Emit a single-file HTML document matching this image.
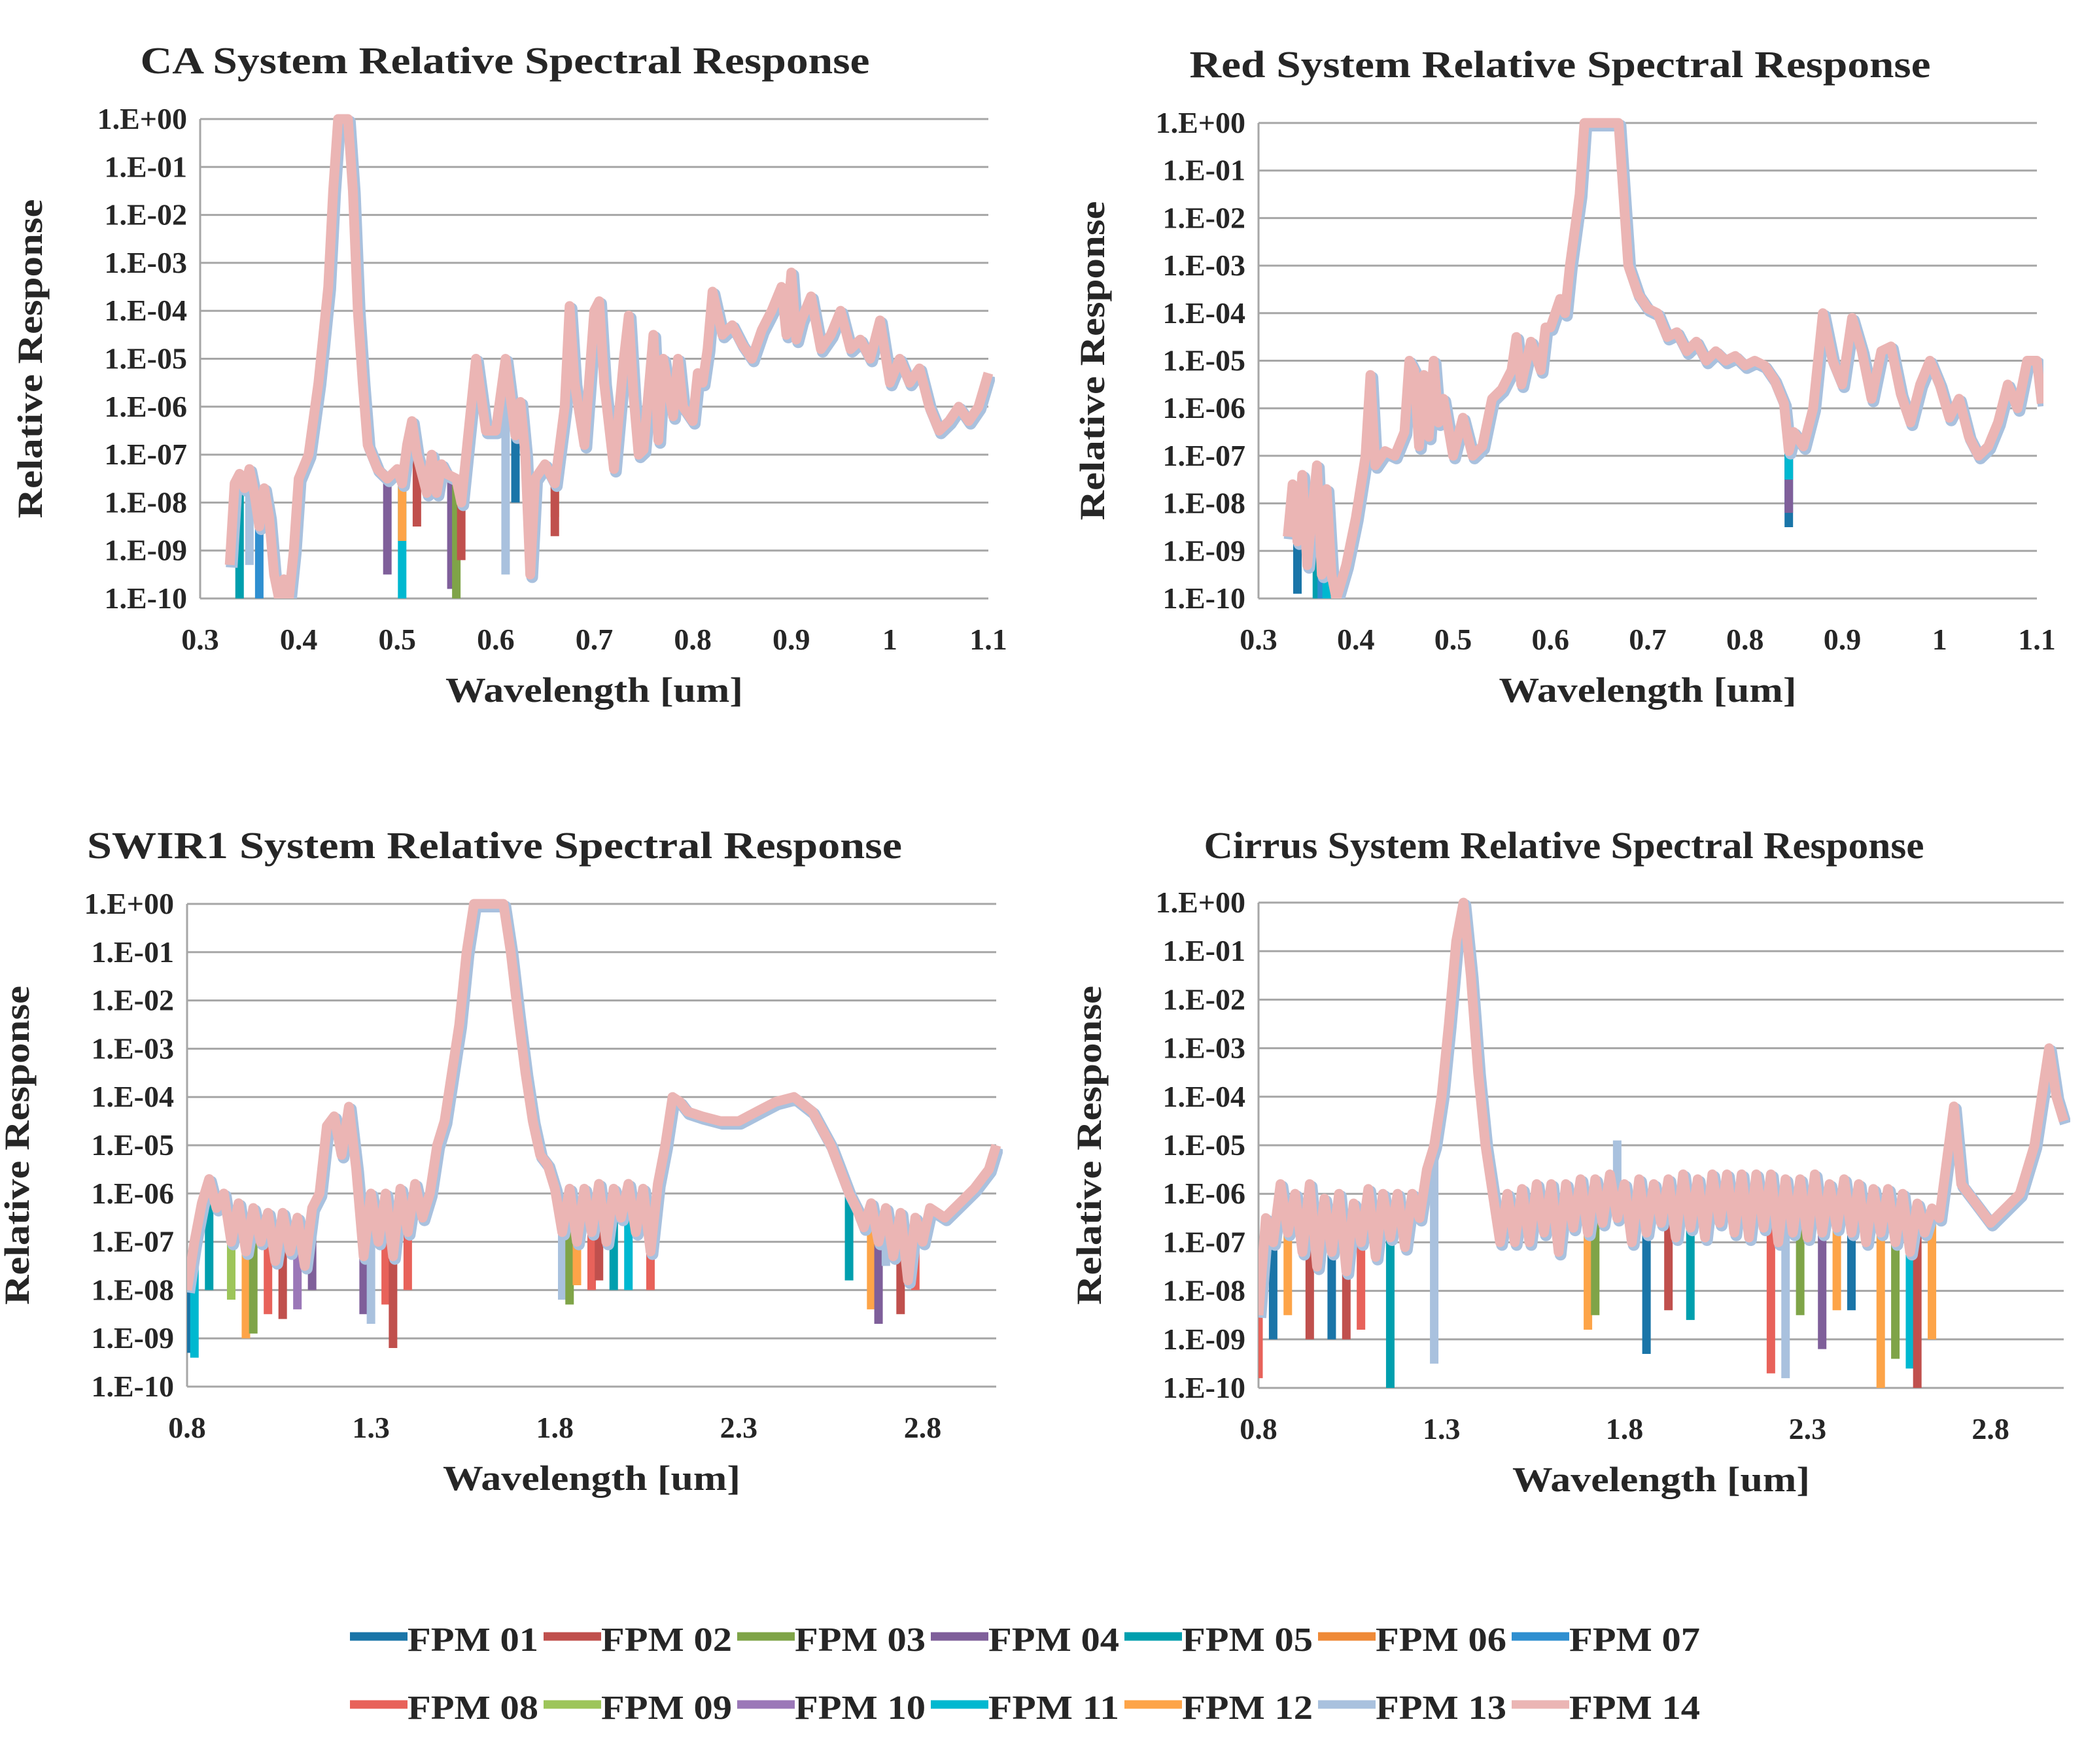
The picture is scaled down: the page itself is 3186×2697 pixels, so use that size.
<!DOCTYPE html>
<html><head><meta charset="utf-8"><style>
html,body{margin:0;padding:0;background:#fff;}
svg{display:block;}
text{font-family:"Liberation Serif",serif;font-weight:bold;fill:#262626;}
</style></head><body>
<svg id="root" width="3186" height="2697" viewBox="0 0 3186 2697" xmlns="http://www.w3.org/2000/svg"></svg>
<script>
const NS="http://www.w3.org/2000/svg";
const seriesNames=["FPM 01","FPM 02","FPM 03","FPM 04","FPM 05","FPM 06","FPM 07","FPM 08","FPM 09","FPM 10","FPM 11","FPM 12","FPM 13","FPM 14"];
const seriesColors=["#1a75a8","#c0504d","#7fa448","#7f5f9a","#009fae","#ef8a38","#2f8fd0","#e8625a","#9dc55a","#9b78b8","#00b8d0","#fda448","#a9c1de","#ebb5b4"];
const yTickLabels=["1.E+00","1.E-01","1.E-02","1.E-03","1.E-04","1.E-05","1.E-06","1.E-07","1.E-08","1.E-09","1.E-10"];
const caTicks=[0.3,0.4,0.5,0.6,0.7,0.8,0.9,1,1.1];
const caWl=[0.33,0.335,0.34,0.345,0.35,0.355,0.36,0.365,0.37,0.375,0.38,0.385,0.39,0.395,0.40,0.41,0.42,0.43,0.435,0.44,0.45,0.455,0.46,0.465,0.47,0.48,0.49,0.50,0.505,0.51,0.515,0.52,0.53,0.535,0.54,0.545,0.55,0.56,0.565,0.57,0.58,0.59,0.60,0.61,0.62,0.625,0.63,0.635,0.64,0.65,0.66,0.67,0.675,0.68,0.69,0.70,0.705,0.71,0.72,0.73,0.735,0.74,0.745,0.75,0.76,0.765,0.77,0.78,0.785,0.79,0.80,0.805,0.81,0.815,0.82,0.83,0.84,0.85,0.86,0.87,0.88,0.89,0.895,0.90,0.905,0.91,0.92,0.93,0.94,0.95,0.96,0.97,0.98,0.99,1.00,1.01,1.02,1.03,1.04,1.05,1.06,1.07,1.08,1.09,1.10];
const caLog=[-9.3,-7.6,-7.4,-7.7,-7.3,-7.8,-8.5,-7.7,-8.3,-9.5,-10,-9.6,-10,-9.0,-7.5,-7.0,-5.5,-3.5,-1.5,0,0,-1.5,-4,-5.5,-6.8,-7.3,-7.5,-7.3,-7.6,-6.8,-6.3,-7.0,-7.8,-7.0,-7.8,-7.2,-7.4,-7.5,-8.0,-7.0,-5.0,-6.5,-6.5,-5.0,-6.6,-5.9,-7.0,-9.5,-7.5,-7.2,-7.6,-6.0,-3.9,-5.5,-6.8,-4.0,-3.8,-5.5,-7.3,-5.0,-4.1,-5.8,-7.0,-6.9,-4.5,-6.7,-5.0,-6.2,-5.0,-6.0,-6.3,-5.3,-5.5,-4.8,-3.6,-4.5,-4.3,-4.7,-5.0,-4.4,-4.0,-3.5,-4.5,-3.2,-4.6,-4.2,-3.7,-4.8,-4.5,-4.0,-4.8,-4.6,-5.0,-4.2,-5.5,-5.0,-5.5,-5.2,-6.0,-6.5,-6.3,-6.0,-6.3,-6.0,-5.3];
const caDipSeries=[4,6,12,3,10,11,1,3,2,1,11,1,12,0];
const caDipWl=[0.34,0.36,0.35,0.49,0.505,0.505,0.52,0.555,0.56,0.565,0.66,0.66,0.61,0.62];
const caDipLog=[-10,-10,-9.3,-9.5,-10,-8.8,-8.5,-9.8,-10,-9.2,-8.3,-8.7,-9.5,-8.0];
const redTicks=[0.3,0.4,0.5,0.6,0.7,0.8,0.9,1,1.1];
const redWl=[0.33,0.335,0.34,0.345,0.35,0.355,0.36,0.365,0.37,0.375,0.38,0.39,0.40,0.41,0.415,0.42,0.43,0.44,0.45,0.455,0.46,0.465,0.47,0.475,0.48,0.485,0.49,0.50,0.51,0.52,0.53,0.54,0.55,0.56,0.565,0.57,0.58,0.59,0.595,0.60,0.61,0.615,0.62,0.63,0.635,0.67,0.675,0.68,0.69,0.70,0.71,0.72,0.73,0.74,0.75,0.76,0.77,0.78,0.79,0.80,0.81,0.82,0.83,0.84,0.845,0.85,0.86,0.87,0.88,0.89,0.90,0.91,0.92,0.93,0.94,0.95,0.96,0.97,0.98,0.99,1.00,1.01,1.02,1.03,1.04,1.05,1.06,1.07,1.08,1.09,1.10,1.105];
const redLog=[-8.7,-7.6,-8.8,-7.4,-9.3,-8.2,-7.2,-9.5,-7.7,-9.5,-10,-9.3,-8.3,-7.0,-5.3,-7.2,-6.9,-7.0,-6.5,-5.0,-5.2,-6.8,-5.3,-6.6,-5.0,-6.3,-5.8,-7.0,-6.2,-7.0,-6.8,-5.8,-5.6,-5.2,-4.5,-5.5,-4.6,-5.2,-4.3,-4.3,-3.7,-4.0,-3.0,-1.5,0,0,-1.5,-3.0,-3.6,-3.9,-4.0,-4.5,-4.4,-4.8,-4.6,-5.0,-4.8,-5.0,-4.9,-5.1,-5.0,-5.1,-5.4,-5.9,-6.9,-6.5,-6.8,-6.0,-4.0,-5.0,-5.5,-4.1,-4.8,-5.8,-4.8,-4.7,-5.7,-6.3,-5.5,-5.0,-5.5,-6.2,-5.8,-6.6,-7.0,-6.8,-6.3,-5.5,-6.0,-5.0,-5.0,-5.9];
const redDipSeries=[0,4,6,10,0,3,10];
const redDipWl=[0.34,0.36,0.365,0.37,0.845,0.845,0.845];
const redDipLog=[-9.9,-10,-10,-10,-8.5,-8.2,-7.5];
const swTicks=[0.8,1.3,1.8,2.3,2.8];
const swWl=[0.80,0.82,0.84,0.86,0.88,0.90,0.92,0.94,0.96,0.98,1.00,1.02,1.04,1.06,1.08,1.10,1.12,1.14,1.16,1.18,1.20,1.22,1.24,1.26,1.28,1.30,1.32,1.34,1.36,1.38,1.40,1.42,1.44,1.46,1.48,1.50,1.52,1.54,1.56,1.58,1.66,1.68,1.70,1.72,1.74,1.76,1.78,1.80,1.82,1.84,1.86,1.88,1.90,1.92,1.94,1.96,1.98,2.00,2.02,2.04,2.06,2.08,2.10,2.12,2.14,2.16,2.20,2.25,2.30,2.35,2.40,2.45,2.50,2.55,2.60,2.62,2.64,2.66,2.68,2.70,2.72,2.74,2.76,2.78,2.80,2.82,2.86,2.90,2.94,2.98,3.00];
const swLog=[-8.0,-7.0,-6.2,-5.7,-6.3,-6.0,-7.0,-6.2,-7.2,-6.3,-7.0,-6.4,-7.4,-6.4,-7.2,-6.5,-7.5,-6.3,-6.0,-4.6,-4.4,-5.2,-4.2,-5.5,-7.3,-6.0,-7.0,-6.0,-7.3,-5.9,-6.8,-5.8,-6.5,-6.0,-5.0,-4.5,-3.5,-2.5,-1.0,0,0,-1.0,-2.3,-3.5,-4.5,-5.2,-5.4,-5.9,-6.8,-5.9,-7.0,-5.9,-6.8,-5.8,-7.0,-5.9,-6.5,-5.8,-6.8,-5.9,-7.2,-5.8,-5.0,-4.0,-4.1,-4.3,-4.4,-4.5,-4.5,-4.3,-4.1,-4.0,-4.3,-5.0,-6.0,-6.3,-6.7,-6.2,-7.0,-6.3,-7.3,-6.4,-7.8,-6.5,-7.0,-6.3,-6.5,-6.2,-5.9,-5.5,-5.0];
const swDipSeries=[0,10,4,8,11,2,7,1,9,3,3,12,7,1,7,12,2,11,7,1,4,10,7,4,11,3,12,1,7];
const swDipWl=[0.80,0.82,0.86,0.92,0.96,0.98,1.02,1.06,1.10,1.14,1.28,1.30,1.34,1.36,1.40,1.82,1.84,1.86,1.90,1.92,1.96,2.00,2.06,2.60,2.66,2.68,2.70,2.74,2.78];
const swDipLog=[-9.3,-9.4,-8.0,-8.2,-9.0,-8.9,-8.5,-8.6,-8.4,-8.0,-8.5,-8.7,-8.3,-9.2,-8.0,-8.2,-8.3,-7.9,-8.0,-7.8,-8.0,-8.0,-8.0,-7.8,-8.4,-8.7,-7.5,-8.5,-8.0];
const ciTicks=[0.8,1.3,1.8,2.3,2.8];
const ciWl=[0.80,0.82,0.84,0.86,0.88,0.90,0.92,0.94,0.96,0.98,1.00,1.02,1.04,1.06,1.08,1.10,1.12,1.14,1.16,1.18,1.20,1.22,1.24,1.26,1.28,1.30,1.32,1.34,1.36,1.38,1.40,1.42,1.44,1.46,1.48,1.50,1.52,1.54,1.56,1.58,1.60,1.62,1.64,1.66,1.68,1.70,1.72,1.74,1.76,1.78,1.80,1.82,1.84,1.86,1.88,1.90,1.92,1.94,1.96,1.98,2.00,2.02,2.04,2.06,2.08,2.10,2.12,2.14,2.16,2.18,2.20,2.22,2.24,2.26,2.28,2.30,2.32,2.34,2.36,2.38,2.40,2.42,2.44,2.46,2.48,2.50,2.52,2.54,2.56,2.58,2.60,2.62,2.64,2.66,2.70,2.72,2.76,2.80,2.84,2.88,2.92,2.96,2.98,3.00];
const ciLog=[-8.5,-6.5,-7.0,-5.8,-6.8,-6.0,-7.2,-5.8,-7.5,-6.1,-7.2,-6.0,-7.6,-6.2,-7.0,-5.9,-7.3,-6.0,-6.9,-6.0,-7.1,-6.0,-6.5,-5.5,-5.0,-4.0,-2.5,-0.8,0,-1.5,-3.5,-5.0,-6.0,-7.0,-6.0,-7.0,-5.9,-7.0,-5.8,-6.8,-5.8,-7.2,-5.8,-6.7,-5.7,-6.8,-5.7,-6.6,-5.6,-6.5,-5.8,-7.0,-5.7,-6.8,-5.8,-6.6,-5.7,-6.9,-5.6,-6.7,-5.7,-6.9,-5.6,-6.6,-5.6,-6.8,-5.6,-6.9,-5.6,-6.7,-5.6,-7.0,-5.7,-6.8,-5.7,-6.9,-5.6,-6.8,-5.8,-6.7,-5.7,-6.8,-5.8,-7.0,-5.9,-6.8,-5.9,-7.0,-6.0,-7.2,-6.2,-6.8,-6.3,-6.5,-4.2,-5.8,-6.2,-6.6,-6.3,-6.0,-5.0,-3.0,-4.0,-4.5];
const ciDipSeries=[7,0,11,1,4,12,1,7,0,11,2,0,1,4,7,12,2,3,11,0,11,10,1,2,11,12];
const ciDipWl=[0.80,0.84,0.88,0.94,1.16,1.28,1.04,1.08,1.00,1.70,1.72,1.86,1.92,1.98,2.20,2.24,2.28,2.34,2.38,2.42,2.50,2.58,2.60,2.54,2.64,1.78];
const ciDipLog=[-9.8,-9.0,-8.5,-9.0,-10,-9.5,-9.0,-8.8,-9.0,-8.8,-8.5,-9.3,-8.4,-8.6,-9.7,-9.8,-8.5,-9.2,-8.4,-8.4,-10,-9.6,-10,-9.4,-9.0,-4.9];

const root=document.getElementById('root');
function el(tag,attrs,parent){const e=document.createElementNS(NS,tag);for(const k in attrs)e.setAttribute(k,attrs[k]);(parent||root).appendChild(e);return e;}
function interp(wl,lg,x){for(let i=0;i<wl.length-1;i++){if(x>=wl[i]&&x<=wl[i+1]){const t=(x-wl[i])/(wl[i+1]-wl[i]);return lg[i]+t*(lg[i+1]-lg[i]);}}return lg[lg.length-1];}

function chart(cfg){
  const g=el('g',{});
  
  
  const X=v=>cfg.L+(v-cfg.xmin)/(cfg.xmax-cfg.xmin)*(cfg.R-cfg.L);
  const Y=v=>cfg.T+(-v)/10*(cfg.B-cfg.T);
  for(let i=0;i<yTickLabels.length;i++){
    const ln=el('line',{x1:cfg.L,x2:cfg.R,y1:Y(-i),y2:Y(-i),stroke:'#a6a6a6','stroke-width':3},g);
    
    
    const t=el('text',{x:cfg.L-20,y:Y(-i)+15,'text-anchor':'end','font-size':46},g);
    t.textContent=yTickLabels[i];
    
    
  }
  const ax=el('line',{x1:cfg.L,x2:cfg.L,y1:cfg.T,y2:cfg.B,stroke:'#a6a6a6','stroke-width':3},g);
  
  
  cfg.ticks.forEach(v=>{
    const t=el('text',{x:X(v),y:cfg.B+78,'text-anchor':'middle','font-size':46},g);
    t.textContent=String(v);
    
    
  });
  const clipId='clip-'+cfg.name;
  const cp=el('clipPath',{id:clipId},g);
  el('rect',{x:cfg.L,y:cfg.T-10,width:cfg.R-cfg.L+10,height:cfg.B-cfg.T+10},cp);
  const dg=el('g',{'clip-path':'url(#'+clipId+')'},g);
  for(let i=0;i<cfg.dipS.length;i++){
    const base=interp(cfg.wl,cfg.lg,cfg.dipW[i]);
    const d=el('line',{x1:X(cfg.dipW[i]),x2:X(cfg.dipW[i]),y1:Y(base),y2:Y(cfg.dipL[i]),stroke:seriesColors[cfg.dipS[i]],'stroke-width':13},dg);
    
    
  }
  let p='';
  cfg.wl.forEach((w,i)=>{p+=(i?'L':'M')+X(w).toFixed(1)+' '+Y(cfg.lg[i]).toFixed(1);});
  const under=el('path',{d:p,fill:'none',stroke:'#a9c1de','stroke-width':18,'stroke-linejoin':'round',transform:'translate(3,4)'},dg);
  
  
  const line=el('path',{d:p,fill:'none',stroke:'#ebb5b4','stroke-width':15,'stroke-linejoin':'round'},dg);
  
  
  const tt=el('text',{x:cfg.tx,y:cfg.ty,'text-anchor':'middle','font-size':58,textLength:cfg.tw,lengthAdjust:'spacingAndGlyphs'},g);
  tt.textContent=cfg.title;
  
  
  const xt=el('text',{x:(cfg.L+cfg.R)/2,y:cfg.B+158,'text-anchor':'middle','font-size':54,textLength:455,lengthAdjust:'spacingAndGlyphs'},g);
  xt.textContent='Wavelength [um]';
  
  
  const yc=(cfg.T+cfg.B)/2;
  const yt=el('text',{x:cfg.yx,y:yc,'text-anchor':'middle','font-size':54,textLength:488,lengthAdjust:'spacingAndGlyphs',transform:'rotate(-90 '+cfg.yx+' '+yc+')'},g);
  yt.textContent='Relative Response';
  
  
}
chart({name:'ca-chart',L:306,R:1511,T:182,B:915,xmin:0.3,xmax:1.1,ticks:caTicks,wl:caWl,lg:caLog,dipS:caDipSeries,dipW:caDipWl,dipL:caDipLog,title:'CA System Relative Spectral Response',tx:772,ty:112,tw:1115,yx:64});
chart({name:'red-chart',L:1924,R:3114,T:188,B:915,xmin:0.3,xmax:1.1,ticks:redTicks,wl:redWl,lg:redLog,dipS:redDipSeries,dipW:redDipWl,dipL:redDipLog,title:'Red System Relative Spectral Response',tx:2385,ty:118,tw:1133,yx:1688});
chart({name:'swir1-chart',L:286,R:1523,T:1382,B:2120,xmin:0.8,xmax:3.0,ticks:swTicks,wl:swWl,lg:swLog,dipS:swDipSeries,dipW:swDipWl,dipL:swDipLog,title:'SWIR1 System Relative Spectral Response',tx:756,ty:1312,tw:1246,yx:44});
chart({name:'cirrus-chart',L:1924,R:3155,T:1380,B:2122,xmin:0.8,xmax:3.0,ticks:ciTicks,wl:ciWl,lg:ciLog,dipS:ciDipSeries,dipW:ciDipWl,dipL:ciDipLog,title:'Cirrus System Relative Spectral Response',tx:2391,ty:1312,tw:1101,yx:1683});

const lg=el('g',{});


for(let i=0;i<14;i++){
  const row=Math.floor(i/7),col=i%7;
  const x=535+col*296,y=row?2606:2502;
  const e=el('g',{},lg);
  
  
  el('line',{x1:x,x2:x+88,y1:y,y2:y,stroke:seriesColors[i],'stroke-width':13},e);
  const t=el('text',{x:x+88,y:y+22,'font-size':52,textLength:200,lengthAdjust:'spacingAndGlyphs'},e);
  t.textContent=seriesNames[i];
}
</script>
</body></html>
